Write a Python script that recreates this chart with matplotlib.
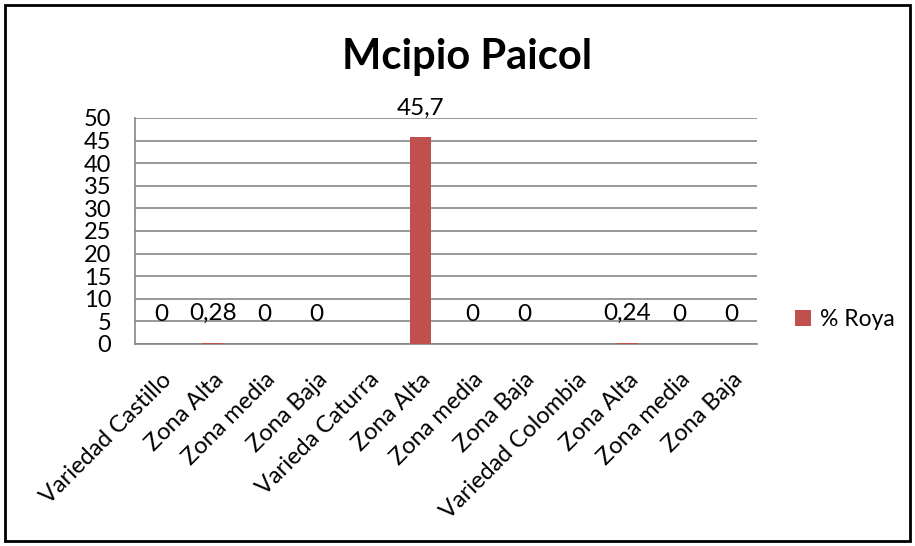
#!/usr/bin/env python3
"""Bar chart: % Roya por zona, municipio Paicol."""
import numpy as np
import matplotlib
matplotlib.use("Agg")
import matplotlib.pyplot as plt
from matplotlib.patches import Rectangle

categories = ["Variedad Castillo", "Zona Alta", "Zona media", "Zona Baja",
              "Varieda Caturra", "Zona Alta", "Zona media", "Zona Baja",
              "Variedad Colombia", "Zona Alta", "Zona media", "Zona Baja"]
roya = [0, 0.28, 0, 0, np.nan, 45.7, 0, 0, np.nan, 0.24, 0, 0]
yticks = list(range(0, 55, 5))

plt.rcParams['font.family'] = ['Lato', 'DejaVu Sans']

fig = plt.figure(figsize=(9.15, 5.46), dpi=100)
ax = fig.add_axes([0.1475, 0.37, 0.68, 0.414])

x = np.arange(len(categories))
vals = np.nan_to_num(np.array(roya, dtype=float))
ax.bar(x, vals, width=0.4, color='#C0504D', label='% Roya', zorder=3)

for xi, v in zip(x, roya):
    if np.isnan(v):
        continue
    txt = f"{v:g}".replace('.', ',')
    ax.annotate(txt, (xi, v), xytext=(0, 21), textcoords='offset points',
                ha='center', va='center', fontsize=17.5, zorder=4)

ax.set_xlim(-0.5, len(categories) - 0.5)
ax.set_ylim(0, 50)
ax.set_yticks(yticks)
ax.tick_params(axis='y', length=0, pad=17, labelsize=17)
ax.tick_params(axis='x', length=0, pad=18, labelsize=17)
ax.set_xticks(x)
ax.set_xticklabels(categories, rotation=45, ha='right', rotation_mode='anchor')
ax.grid(axis='y', color='#868686', linewidth=1.2, zorder=0)
for s in ['top', 'right']:
    ax.spines[s].set_visible(False)
for s in ['left', 'bottom']:
    ax.spines[s].set_color('#868686')
    ax.spines[s].set_linewidth(1.2)

fig.text(0.51, 0.895, "Mcipio Paicol", ha='center', va='center',
         fontsize=30, fontweight='bold')

fig.legend(loc='center left', bbox_to_anchor=(0.846, 0.415), frameon=False,
           fontsize=16.5, handlelength=0.7, handleheight=0.7, handletextpad=0.4)

fig.patches.append(Rectangle((0.006, 0.009), 0.988, 0.982, transform=fig.transFigure,
                             fill=False, edgecolor='black', linewidth=2))

fig.savefig('out.png', dpi=100)
